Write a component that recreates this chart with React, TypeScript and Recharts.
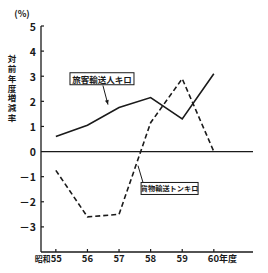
import { LineChart, Line, XAxis, YAxis, ReferenceLine, ReferenceDot } from "recharts";

const years = [55, 56, 57, 58, 59, 60];
const passengerKm = [0.6, 1.05, 1.75, 2.15, 1.3, 3.1];
const freightTonKm = [-0.75, -2.6, -2.5, 1.15, 2.9, 0.0];
const yTicks = [-3, -2, -1, 0, 1, 2, 3, 4, 5];
const yTitle = "対前年度増減率";
const passengerName = "旅客輸送人キロ";
const freightName = "貨物輸送トンキロ";

const rows = years.map((year, i) => ({
  year,
  passenger: passengerKm[i],
  freight: freightTonKm[i],
}));

const font = '"Noto Sans CJK JP", "Noto Sans", sans-serif';
const ink = "#1a1a1a";

function YTick({ x, y, payload }: any) {
  const v = payload.value as number;
  const text = v < 0 ? `－${Math.abs(v)}` : String(v);
  return (
    <g>
      {v !== 0 && <line x1={x} x2={x + 3} y1={y} y2={y} stroke={ink} strokeWidth={1.2} />}
      <text x={x - 5} y={y} textAnchor="end" dominantBaseline="central" fontSize={10.5} fontWeight={700} fontFamily={font} fill={ink}>
        {text}
      </text>
    </g>
  );
}

function XTick({ x, y, payload }: any) {
  const v = payload.value as number;
  let body;
  if (v === 55) {
    body = (
      <text x={x + 6} y={y + 10} textAnchor="end" fontSize={9.5} fontWeight={700} fontFamily={font} fill={ink}>
        <tspan fontSize={8}>昭和</tspan>55
      </text>
    );
  } else if (v === 60) {
    body = (
      <text x={x - 6} y={y + 10} textAnchor="start" fontSize={9.5} fontWeight={700} fontFamily={font} fill={ink}>
        60<tspan fontSize={9}>年度</tspan>
      </text>
    );
  } else {
    body = (
      <text x={x} y={y + 10} textAnchor="middle" fontSize={9.5} fontWeight={700} fontFamily={font} fill={ink}>
        {v}
      </text>
    );
  }
  return (
    <g>
      <line x1={x} x2={x} y1={y} y2={y - 3} stroke={ink} strokeWidth={1.2} />
      {body}
    </g>
  );
}

function YTitle({ viewBox }: any) {
  return (
    <g fontFamily={font} fill={ink} fontWeight={700}>
      <text x={viewBox.x + 22} y={viewBox.y - 13} textAnchor="middle" dominantBaseline="central" fontSize={9}>
        (%)
      </text>
      <text
        x={12}
        y={viewBox.y + 29}
        fontSize={8.5}
        letterSpacing={1.2}
        style={{ writingMode: "vertical-rl" }}
      >
        {yTitle}
      </text>
    </g>
  );
}

const boxLabel = (text: string, w: number, fs: number) => (p: any) => (
  <g>
    <rect x={p.cx - w / 2} y={p.cy - 6} width={w} height={12} fill="#fff" stroke={ink} strokeWidth={1} />
    <text x={p.cx} y={p.cy} textAnchor="middle" dominantBaseline="central" fontSize={fs} fontWeight={700} fontFamily={font} fill={ink}>
      {text}
    </text>
  </g>
);

const arrow = (head: boolean) => (p: any) => {
  const { x1, y1, x2, y2 } = p;
  const a = Math.atan2(y2 - y1, x2 - x1);
  const l = 5;
  const h1 = [x2 - l * Math.cos(a - 0.4), y2 - l * Math.sin(a - 0.4)];
  const h2 = [x2 - l * Math.cos(a + 0.4), y2 - l * Math.sin(a + 0.4)];
  return (
    <g>
      <line x1={x1} y1={y1} x2={x2} y2={y2} stroke={ink} strokeWidth={1} />
      {head && <polygon points={`${x2},${y2} ${h1[0]},${h1[1]} ${h2[0]},${h2[1]}`} fill={ink} />}
    </g>
  );
};

export default function App() {
  return (
    <div style={{ position: "absolute", left: 0, top: 0, width: 268, height: 273, background: "#fff" }}>
      <LineChart width={268} height={273} data={rows} margin={{ top: 26, right: 15, bottom: 0, left: 0 }}>
        <XAxis
          dataKey="year"
          type="number"
          domain={[54.53, 61.24]}
          ticks={years}
          height={21}
          tickLine={false}
          tickSize={0}
          tickMargin={0}
          axisLine={{ stroke: ink, strokeWidth: 1.3 }}
          tick={<XTick />}
          allowDataOverflow
        />
        <YAxis
          type="number"
          domain={[-4, 5]}
          ticks={yTicks}
          width={41}
          tickLine={false}
          tickSize={0}
          tickMargin={0}
          axisLine={{ stroke: ink, strokeWidth: 1.3 }}
          tick={<YTick />}
          label={<YTitle />}
          allowDataOverflow
        />
        <ReferenceLine y={0} stroke={ink} strokeWidth={1.3} />
        <Line dataKey="passenger" stroke={ink} strokeWidth={1.6} dot={false} isAnimationActive={false} type="linear" />
        <Line dataKey="freight" stroke={ink} strokeWidth={1.6} strokeDasharray="5 3" dot={false} isAnimationActive={false} type="linear" />
        <ReferenceLine segment={[{ x: 56.49, y: 2.63 }, { x: 56.65, y: 1.87 }]} shape={arrow(true)} />
        <ReferenceLine segment={[{ x: 57.6, y: -0.56 }, { x: 57.76, y: -1.24 }]} shape={arrow(false)} />
        <ReferenceDot x={56.46} y={2.9} r={0} shape={boxLabel(passengerName, 64, 8.5)} />
        <ReferenceDot x={58.6} y={-1.47} r={0} shape={boxLabel(freightName, 57, 7.2)} />
      </LineChart>
    </div>
  );
}
